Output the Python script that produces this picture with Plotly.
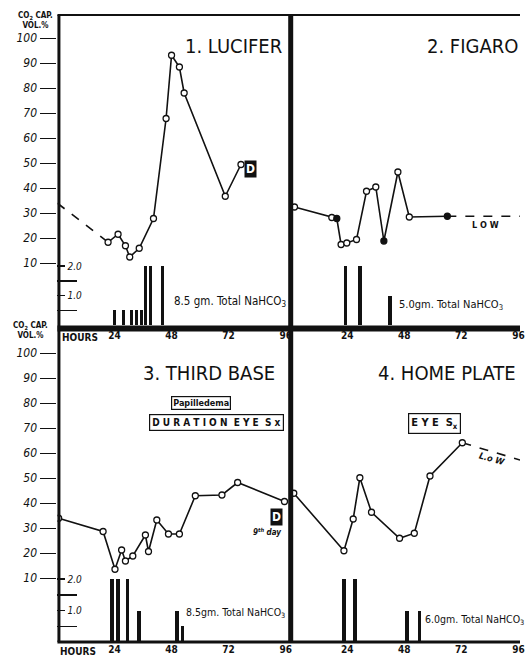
import plotly.graph_objects as go

# ---------------- data ----------------
hours_ticks = [24, 48, 72, 96]
co2_ticks = [10, 20, 30, 40, 50, 60, 70, 80, 90, 100]

# Panel 1 - Lucifer
luc_h = [21.3, 25.5, 28.6, 30.4, 34.4, 40.4, 45.7, 48.0, 51.3, 53.3, 70.6, 77.2]
luc_v = [18.4, 21.6, 17.0, 12.5, 16.0, 27.9, 67.9, 93.2, 88.5, 78.1, 36.8, 49.5]
luc_dash_h = [0.0, 21.3]
luc_dash_v = [34.0, 18.4]
luc_bar_h = [23.9, 27.9, 31.3, 33.4, 35.5, 37.2, 39.3, 44.3]
luc_bar_g = [0.5, 0.5, 0.5, 0.5, 0.5, 2.0, 2.0, 2.0]

# Panel 2 - Figaro
fig_h = [1.8, 17.5, 19.6, 21.4, 23.8, 27.9, 32.1, 36.0, 39.4, 45.3, 50.1, 66.1]
fig_v = [32.5, 28.3, 27.9, 17.5, 18.1, 19.5, 38.8, 40.5, 18.9, 46.5, 28.5, 28.8]
fig_filled = [False, False, True, False, False, False, False, False, True, False, False, True]
fig_dash_h = [66.1, 96.7]
fig_dash_v = [28.8, 28.8]
fig_bar_h = [23.3, 29.4, 42.1]
fig_bar_g = [2.0, 2.0, 1.0]

# Panel 3 - Third Base
tb_h = [0.5, 19.2, 24.2, 27.0, 28.6, 31.7, 37.0, 38.3, 41.8, 46.7, 51.3, 58.0, 69.2, 75.8, 95.5]
tb_v = [34.0, 28.7, 13.6, 21.3, 16.9, 18.9, 27.3, 20.7, 33.3, 27.7, 27.7, 43.0, 43.3, 48.3, 40.7]
tb_bar_h = [22.9, 25.6, 29.5, 34.4, 50.3, 52.6]
tb_bar_g = [2.0, 2.0, 2.0, 1.0, 1.0, 0.5]

# Panel 4 - Home Plate
hp_h = [1.5, 22.6, 26.5, 29.3, 34.2, 46.0, 52.2, 58.8, 72.4]
hp_v = [44.0, 21.0, 33.7, 50.2, 36.4, 26.0, 28.0, 50.9, 64.2]
hp_dash_h = [72.4, 96.7]
hp_dash_v = [64.2, 57.3]
hp_bar_h = [22.7, 27.2, 49.3, 54.4]
hp_bar_g = [2.0, 2.0, 1.0, 1.0]

# ---------------- layout helpers ----------------
W, H = 525, 656
FONT = "Liberation Sans Narrow, DejaVu Sans Condensed, Liberation Sans, sans-serif"
INK = "#111111"


def px(x):
    return x / W


def py(y):
    return (H - y) / H


L0, L1 = 58, 293      # left panels (page px)
R0, R1 = 293, 525     # right panels
T0, T1 = 15, 325      # top panels
B0, B1 = 330, 642     # bottom panels

fig = go.Figure()


def line_trace(h, v, xa, ya, filled=None, dash=False, markers=True):
    if filled is None:
        filled = [False] * len(h)
    fig.add_trace(go.Scatter(
        x=h, y=v, xaxis=xa, yaxis=ya,
        mode="lines+markers" if markers else "lines",
        line=dict(color=INK, width=1.6, dash="dash" if dash else "solid"),
        marker=dict(size=6, symbol="circle",
                    color=[INK if f else "white" for f in filled],
                    line=dict(color=INK, width=1.3)),
        showlegend=False, hoverinfo="x+y"))


def bar_trace(h, g, xa, ya, width=1.4):
    fig.add_trace(go.Bar(x=h, y=g, xaxis=xa, yaxis=ya, width=width,
                         marker=dict(color=INK, line=dict(width=0)),
                         showlegend=False))


# Panel 1
line_trace(luc_dash_h, luc_dash_v, "x", "y", dash=True, markers=False)
line_trace(luc_h, luc_v, "x", "y")
bar_trace(luc_bar_h, luc_bar_g, "x", "y5", width=1.25)
# Panel 2
line_trace(fig_dash_h, fig_dash_v, "x2", "y2", dash=True, markers=False)
line_trace(fig_h, fig_v, "x2", "y2", filled=fig_filled)
bar_trace(fig_bar_h, fig_bar_g, "x2", "y6", width=1.6)
# Panel 3
line_trace(tb_h, tb_v, "x3", "y3")
bar_trace(tb_bar_h, tb_bar_g, "x3", "y7", width=1.6)
# Panel 4
line_trace(hp_dash_h, hp_dash_v, "x4", "y4", dash=True, markers=False)
line_trace(hp_h, hp_v, "x4", "y4")
bar_trace(hp_bar_h, hp_bar_g, "x4", "y8", width=1.6)

xfont = dict(family=FONT, size=10, color=INK, weight="bold")
yfont = dict(family=FONT, size=12, color=INK, style="italic")


def xaxis(dom, anchor, rng, standoff):
    return dict(domain=dom, anchor=anchor, range=rng, tickvals=hours_ticks,
                ticktext=[str(t) for t in hours_ticks], showticklabels=True,
                ticks="", showline=False, showgrid=False, zeroline=False,
                tickfont=xfont, ticklabelstandoff=standoff,
                ticklabeloverflow="allow", fixedrange=True)


def yaxis(dom, anchor, rng, labels):
    return dict(domain=dom, anchor=anchor, range=rng, tickvals=co2_ticks,
                showticklabels=labels, ticks="outside" if labels else "",
                ticklen=16, tickwidth=1.5, tickcolor=INK,
                showline=False, showgrid=False, zeroline=False,
                tickfont=yfont, ticklabelstandoff=1)


def baraxis(over, anchor, rng, labels):
    d = dict(overlaying=over, anchor=anchor, range=rng, side="left",
             showgrid=False, zeroline=False, showline=False)
    if labels:
        d.update(tickvals=[1, 2], ticktext=["1.0", "2.0"], ticks="inside",
                 ticklen=8, tickwidth=1.5, tickcolor=INK,
                 ticklabelposition="inside", ticklabelstandoff=1,
                 tickfont=dict(family=FONT, size=10, color=INK, style="italic"),
                 minor=dict(tickvals=[0.5, 1.5], ticks="inside", ticklen=20,
                            tickwidth=1.5, tickcolor=INK))
    else:
        d.update(showticklabels=False, ticks="")
    return d


topdom = [py(T1), py(T0)]
botdom = [py(B1), py(B0)]
ldom = [px(L0), px(L1)]
rdom = [px(R0), 1.0]
xr_l = [0, (L1 - L0) / 2.4]
xr_r = [0, (R1 - R0) / 2.4]

fig.update_layout(
    width=W, height=H, margin=dict(l=0, r=0, t=0, b=0),
    paper_bgcolor="white", plot_bgcolor="white",
    showlegend=False, bargap=0,
    xaxis=xaxis(ldom, "y", xr_l, 3),
    xaxis2=xaxis(rdom, "y2", xr_r, 3),
    xaxis3=xaxis(ldom, "y3", xr_l, 0),
    xaxis4=xaxis(rdom, "y4", xr_r, 0),
    yaxis=yaxis(topdom, "x", [-14.7, 109.3], True),
    yaxis2=yaxis(topdom, "x2", [-14.7, 109.3], False),
    yaxis3=yaxis(botdom, "x3", [-15.5, 109.3], True),
    yaxis4=yaxis(botdom, "x4", [-15.5, 109.3], False),
    yaxis5=baraxis("y", "x", [0, 310 / 29.5], True),
    yaxis6=baraxis("y2", "x2", [0, 310 / 29.5], False),
    yaxis7=baraxis("y3", "x3", [0, 312 / 31.5], True),
    yaxis8=baraxis("y4", "x4", [0, 312 / 31.5], False),
)

# ---------------- frame lines ----------------
frame = [
    (L0, T0, 525, T0, 2),             # top border
    (L0 + 1.5, T0, L0 + 1.5, B1, 3),  # left axis
    (293.5, T0, 293.5, B1, 5),        # vertical divider
    (L0, 328.5, 525, 328.5, 6),       # horizontal divider
    (L0, B1, 525, B1, 3),             # bottom border
]
for x0, y0, x1, y1, w in frame:
    fig.add_shape(type="line", xref="paper", yref="paper",
                  x0=px(x0), y0=py(y0), x1=px(x1), y1=py(y1),
                  line=dict(color=INK, width=w))

# ---------------- annotations ----------------
TFONT = dict(family=FONT, size=20, color=INK)
GFONT = dict(family=FONT, size=11, color=INK)


def ann(text, x, y, xref, yref, font, xanchor="center", yanchor="middle", **kw):
    fig.add_annotation(text=text, x=x, y=y, xref=xref, yref=yref, font=font,
                       xanchor=xanchor, yanchor=yanchor, showarrow=False, **kw)


ann("1. LUCIFER", 95.5, 96.7, "x", "y", TFONT, xanchor="right")
ann("2. FIGARO", 96.5, 96.9, "x2", "y2", TFONT, xanchor="right")
ann("3. THIRD BASE", 92.5, 92.1, "x3", "y3", TFONT, xanchor="right")
ann("4. HOME PLATE", 96.0, 92.1, "x4", "y4", TFONT, xanchor="right")

ann("8.5 gm. Total NaHCO<sub>3</sub>", 96.8, 0.78, "x", "y5",
    dict(family=FONT, size=11.5, color=INK), xanchor="right")
ann("5.0gm. Total NaHCO<sub>3</sub>", 45.0, 0.68, "x2", "y6", GFONT, xanchor="left")
ann("8.5gm. Total NaHCO<sub>3</sub>", 96.6, 0.92, "x3", "y7",
    dict(family=FONT, size=10.5, color=INK), xanchor="right")
ann("6.0gm. Total NaHCO<sub>3</sub>", 56.0, 0.70, "x4", "y8",
    dict(family=FONT, size=10.5, color=INK), xanchor="left")

DFONT = dict(family=FONT, size=12, color="white", weight="bold")
ann("D", 81.3, 47.7, "x", "y", DFONT, bgcolor=INK, borderpad=1)
ann("D", 92.1, 34.6, "x3", "y3", DFONT, bgcolor=INK, borderpad=1)
ann("9<sup>th</sup> day", 88.3, 28.4, "x3", "y3",
    dict(family=FONT, size=8, color=INK, style="italic", weight="bold"))

ann("L O W", 82.0, 25.3, "x2", "y2", dict(family=FONT, size=9, color=INK, weight="bold"))
ann("L.o W", 84.9, 57.8, "x4", "y4", dict(family=FONT, size=9, color=INK, weight="bold",
                                           style="italic"), textangle=16)

ann("Papilledema", 60.6, 80.3, "x3", "y3",
    dict(family=FONT, size=9, color=INK, weight="bold"),
    bordercolor=INK, borderwidth=1.2, borderpad=1, bgcolor="white")
ann("D U R A T I O N &nbsp;E Y E &nbsp;S x", 67.0, 72.5, "x3", "y3",
    dict(family=FONT, size=10, color=INK, weight="bold"),
    bordercolor=INK, borderwidth=1.2, borderpad=2, bgcolor="white")
ann("E Y E &nbsp;S<sub>x</sub>", 60.8, 72.1, "x4", "y4",
    dict(family=FONT, size=11, color=INK, weight="bold"),
    bordercolor=INK, borderwidth=1.2, borderpad=2, bgcolor="white")

HFONT = dict(family=FONT, size=10, color=INK, weight="bold")
ann("HOURS", px(61), py(337), "paper", "paper", HFONT, xanchor="left")
ann("HOURS", px(59), py(651), "paper", "paper", HFONT, xanchor="left")

CFONT = dict(family=FONT, size=8, color=INK, weight="bold")
ann("CO<sub>2</sub> CAP.<br>VOL.%", px(36), py(9), "paper", "paper", CFONT,
    yanchor="top")
ann("CO<sub>2</sub> CAP.<br>VOL.%", px(31), py(319), "paper", "paper", CFONT,
    yanchor="top")

fig.write_html(
    "out.html",
    config={"staticPlot": True, "displayModeBar": False},
    post_script="document.body.style.margin='0';"
                "document.body.style.overflow='hidden';"
                "document.documentElement.style.overflow='hidden';",
)
